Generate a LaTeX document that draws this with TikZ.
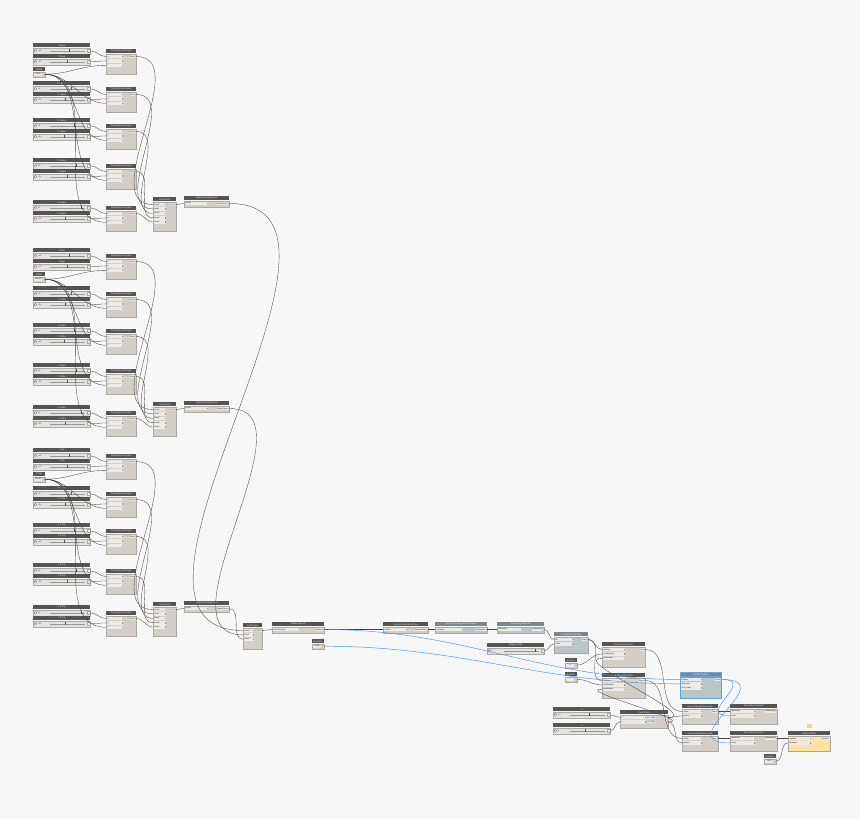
\documentclass[tikz,border=0pt]{standalone}
\usepackage{fontspec}
\setmainfont{Open Sans}
\usetikzlibrary{positioning, calc}
\definecolor{canvas}{RGB}{247,247,247}
\definecolor{headgray}{RGB}{84,84,84}
\definecolor{bodygray}{RGB}{211,207,200}
\definecolor{bodyedge}{RGB}{172,168,162}
\definecolor{pinfill}{RGB}{236,234,230}
\definecolor{sliderfill}{RGB}{228,226,222}
\definecolor{trackgray}{RGB}{150,150,150}
\definecolor{coolhead}{RGB}{122,135,143}
\definecolor{coolbody}{RGB}{186,197,202}
\definecolor{pickblue}{RGB}{95,165,225}
\definecolor{warmbody}{RGB}{253,226,160}
\definecolor{flagyellow}{RGB}{251,212,128}
\definecolor{wiregray}{RGB}{70,70,70}
\definecolor{wireblue}{RGB}{70,150,235}
\newcommand{\hfont}{\fontsize{2.2}{2.6}\selectfont}
\newcommand{\pfont}{\fontsize{1.9}{2.2}\selectfont}

% node with header, input pins and one output
\newcommand{\dyn}[9][plain]{%
  \node[head, #1 head, minimum width=#5] (#2) at (#3,#4) {#7};
  \node[body, #1 body, minimum width=#5, minimum height=#6] (#2-b) at (#2.south west) {};
  \pgfmathsetmacro\pinw{0.5*#5}%
  \foreach \pin [count=\k] in {#8} {
    \node[pin, text width=\pinw pt] (#2-i\k) at ($(#2-b.north west)+(0.9,{0.9+4.4*(\k-1)})$) {\pin};
    \node[pinmark] at ($(#2-i\k.east)+(-0.9,0)$) {};
    \coordinate (#2-in\k) at (#2-i\k.west -| #2-b.west);
  }
  \node[pout] (#2-o) at ($(#2-b.north east)+(-0.9,0.9)$) {#9};
  \coordinate (#2-out) at (#2-o.east -| #2-b.east);
}
% slider: id, x, y, label, value, thumb
\newcommand{\slider}[6]{%
  \node[head, minimum width=57] (#1) at (#2,#3) {#4};
  \node[sbody] (#1-b) at (#1.south west) {};
  \node[knob] at ($(#1-b.west)+(2.4,0)$) {};
  \node[val] at ($(#1-b.west)+(5,0)$) {#5};
  \draw[track] ($(#1-b.west)+(17,0)$) -- ($(#1-b.east)+(-5,0)$);
  \node[thumb] at ($(#1-b.west)+({17+#6*35},0)$) {};
  \node[grip] at ($(#1-b.east)+(-1.8,0)$) {};
  \coordinate (#1-out) at (#1-b.east);
}
% number input
\newcommand{\numnode}[5]{%
  \node[head, minimum width=11.5] (#1) at (#2,#3) {#4};
  \node[body, minimum width=11.5, minimum height=5] (#1-b) at (#1.south west) {};
  \node[numbox] at ($(#1-b.west)+(0.8,0)$) {#5};
  \coordinate (#1-out) at (#1-b.east);
}

\begin{document}
\begin{tikzpicture}[x=1pt, y=-1pt,
    head/.style={anchor=north west, rectangle, fill=headgray, text=white, font=\hfont, inner sep=0, minimum height=4.2},
    body/.style={anchor=north west, rectangle, fill=bodygray, draw=bodyedge, line width=0.2, inner sep=0},
    plain head/.style={}, plain body/.style={},
    cool head/.style={fill=coolhead}, cool body/.style={fill=coolbody},
    picked head/.style={fill=coolhead, draw=pickblue, line width=0.35},
    picked body/.style={fill=coolbody, draw=pickblue, line width=0.35},
    warm head/.style={}, warm body/.style={fill=warmbody},
    pin/.style={anchor=north west, fill=pinfill, inner sep=0.4, minimum height=3.6, align=left, font=\pfont},
    pinmark/.style={fill=trackgray, minimum width=0.6, minimum height=1.6, inner sep=0},
    pout/.style={anchor=north east, fill=pinfill, inner sep=0.4, minimum height=3.6, font=\pfont},
    sbody/.style={anchor=north west, fill=sliderfill, draw=bodyedge, line width=0.2, minimum width=57, minimum height=6.2, inner sep=0},
    knob/.style={circle, draw=headgray, fill=white, minimum size=2.6, inner sep=0, line width=0.25},
    val/.style={anchor=west, font=\pfont, inner sep=0},
    track/.style={draw=trackgray, line width=0.5},
    thumb/.style={fill=headgray, minimum width=0.9, minimum height=2.8, inner sep=0},
    grip/.style={fill=pinfill, draw=bodyedge, line width=0.2, minimum size=2.8, inner sep=0},
    numbox/.style={anchor=west, fill=pinfill, inner sep=0.35, minimum width=8, minimum height=3.4, font=\pfont},
    code/.style={anchor=west, font=\pfont, inner sep=0.3, fill=pickblue!25},
    flag/.style={anchor=north west, fill=flagyellow, minimum width=5, minimum height=4, inner sep=0},
    link/.style={draw=wiregray, line width=0.35, out=0, in=180},
    bluelink/.style={link, draw=wireblue, line width=0.45}
  ]
  \useasboundingbox (0,0) rectangle (860,819);
  \fill[canvas] (0,0) rectangle (860,819);

  % three point groups: base, mid, top
  \foreach \g/\off/\tag/\zv in {1/0/Base/0.000, 2/205/Mid/45.000, 3/405/Top/90.000} {
    \numnode{z\g}{33}{67+\off}{Z \tag}{\zv}
    \foreach \r/\ry/\lx/\ly/\vx/\vy/\tx/\ty in {1/43/X/Y/-53/-57/0.55/0.5, 2/81/X 1/Y 1/18/-29/0.6/0.45,
        3/118/X 2/Y 2/25/-40/0.7/0.4, 4/158/X 3/Y 3/38/-25/0.75/0.5, 5/200/X 4/Y 4/47/-32/0.9/0.45} {
      \slider{sx\g\r}{33}{\ry+\off}{\lx\ \tag}{\vx}{\tx}
      \slider{sy\g\r}{33}{\ry+11+\off}{\ly\ \tag}{\vy}{\ty}
      \dyn{p\g\r}{106}{\ry+6+\off}{30}{20.8}{Point.ByCoordinates}{x,y,z}{Point}
      \draw[link] (sx\g\r-out) to (p\g\r-in1);
      \draw[link] (sy\g\r-out) to (p\g\r-in2);
      \draw[link] (z\g-out) to (p\g\r-in3);
    }
    \dyn{lc\g}{153}{197+\off}{23}{29}{List.Create}{item0,item1,item2,item3,item4}{list}
    \dyn{nc\g}{184}{196+\off}{45}{6}{NurbsCurve.ByPoints}{points}{NurbsCurve}
    \foreach \r in {1,...,5} \draw[link] (p\g\r-out) to (lc\g-in\r);
    \draw[link] (lc\g-out) to (nc\g-in1);
  }

  % loft and surface chain
  \dyn{lcA}{243}{623}{19}{21}{List.Create}{item0,item1,item2}{list}
  \dyn{loft}{272}{622}{52}{6}{Surface.ByLoft}{crossSections}{Surface}
  \numnode{depth}{312}{639}{Number}{0.500}
  \dyn{tns}{383}{622}{45}{6}{Surface.ToNurbsSurface}{surface}{NurbsSurface}
  \dyn[cool]{join}{435}{622}{52}{6}{PolySurface.ByJoinedSurfaces}{surfaces}{PolySurface}
  \dyn[cool]{expl}{497}{622}{47}{6}{Geometry.Explode}{geometry}{Geometry[]}
  \slider{isl}{487}{643}{Integer Slider}{1}{0.9}
  \dyn[cool]{gi}{554}{632}{34}{16}{List.GetItemAtIndex}{list,index}{item}
  \numnode{n0}{565}{658}{Number}{0}
  \numnode{n1}{565}{672}{Number}{1}
  \dyn{iso1}{602}{642}{43}{20}{Surface.GetIsoline}{surface,isoDirection,parameter}{Curve}
  \dyn{iso2}{602}{673}{43}{20}{Surface.GetIsoline}{surface,isoDirection,parameter}{Curve}
  \dyn[picked]{thick}{680}{672}{41}{21}{Surface.Thicken}{surface,thickness,both\_sides}{Solid}

  % sections
  \slider{su}{553}{707}{U}{10}{0.55}
  \slider{sv}{553}{723}{V}{8}{0.45}
  \dyn{cb}{620}{710}{48}{13}{Code Block}{u,v}{}
  \coordinate (cb-out2) at (cb-i2.west -| cb-b.east);
  \node[code] at ($(cb-i1.east)+(1,0)$) {0..1..\#u;};
  \node[code] at ($(cb-i2.east)+(1,0)$) {0..1..\#v;};
  \dyn{cp1}{682}{704}{36}{15}{Curve.PlaneAtParameter}{curve,param}{Plane}
  \dyn{cp2}{682}{731}{36}{15}{Curve.PlaneAtParameter}{curve,param}{Plane}
  \dyn{gx1}{730}{704}{47}{15}{Geometry.Intersect}{geometry,other}{Geometry[]}
  \dyn{gx2}{730}{731}{47}{15}{Geometry.Intersect}{geometry,other}{Geometry[]}
  \dyn[warm]{off}{788}{731}{42}{15}{Surface.Offset}{surface,distance}{Surface}
  \node[flag] (offpin) at (807,724) {};
  \numnode{nd}{764}{754}{Number}{1.000}

  \draw[link] (nc1-out) to (lcA-in1);
  \draw[link] (nc2-out) to (lcA-in2);
  \draw[link] (nc3-out) to (lcA-in3);
  \draw[link] (lcA-out) to (loft-in1);
  \draw[link] (loft-out) to (tns-in1);
  \draw[link] (tns-out) to (join-in1);
  \draw[link] (join-out) to (expl-in1);
  \draw[link] (expl-out) to (gi-in1);
  \draw[link] (isl-out) to (gi-in2);
  \draw[link] (gi-out) to (iso1-in1);
  \draw[link] (gi-out) to (iso2-in1);
  \draw[link] (n0-out) to (iso1-in2);
  \draw[link] (n1-out) to (iso2-in2);
  \draw[link] (cb-out) to (iso1-in3);
  \draw[link] (cb-out2) to (iso2-in3);
  \draw[link] (su-out) to (cb-in1);
  \draw[link] (sv-out) to (cb-in2);
  \draw[link] (iso1-out) to (cp1-in1);
  \draw[link] (iso2-out) to (cp2-in1);
  \draw[link] (cb-out) to (cp1-in2);
  \draw[link] (cb-out2) to (cp2-in2);
  \draw[link] (cp1-out) to (gx1-in1);
  \draw[link] (cp2-out) to (gx2-in1);
  \draw[link] (gx2-out) to (off-in1);
  \draw[link] (nd-out) to (off-in2);
  \draw[bluelink] (loft-out) to (thick-in1);
  \draw[bluelink] (depth-out) to (thick-in2);
  \draw[bluelink, looseness=2.5] (thick-out) to (gx1-in2);
  \draw[bluelink, looseness=2.5] (thick-out) to (gx2-in2);
\end{tikzpicture}
\end{document}
